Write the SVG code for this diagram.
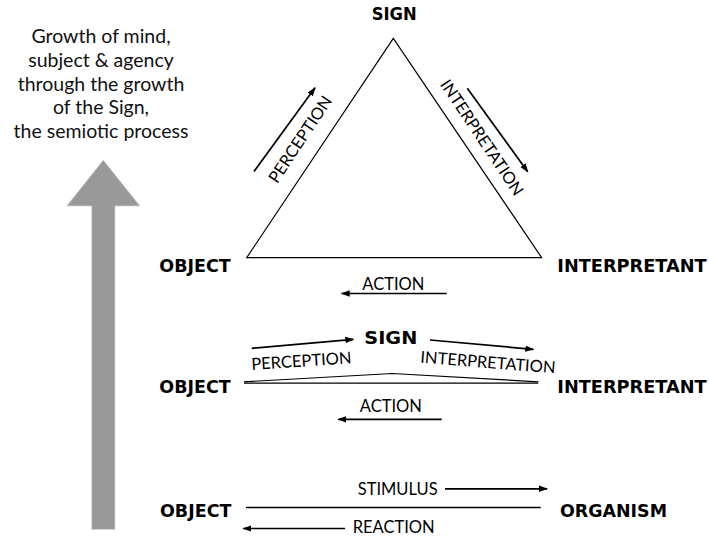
<svg xmlns="http://www.w3.org/2000/svg" width="709" height="536" viewBox="0 0 709 536">
  <defs>
    <marker id="ah" markerUnits="userSpaceOnUse" markerWidth="10" markerHeight="8" refX="8" refY="4" orient="auto">
      <path d="M0,0.8 L9,4 L0,7.2 z" fill="#000"/>
    </marker>
    <style>
      .lbl { font-family: Lato, "Open Sans", "Liberation Sans", sans-serif; font-size: 16.5px; fill: #000; }
      .node { font-family: "DejaVu Sans", "Liberation Sans", sans-serif; font-weight: bold; font-size: 17px; fill: #000; }
      .note { font-family: Lato, "Open Sans", "Liberation Sans", sans-serif; font-size: 19.5px; fill: #111; text-anchor: middle; }
      .arr { stroke: #000; stroke-width: 1.7; fill: none; marker-end: url(#ah); }
      .edge { stroke: #000; stroke-width: 1.2; fill: none; }
    </style>
  </defs>
  <rect width="709" height="536" fill="#fff"/>

  <!-- growth note and big grey arrow -->
  <g id="growth">
    <text class="note" x="101" y="43.3">Growth of mind,</text>
    <text class="note" x="101" y="66.7">subject &amp; agency</text>
    <text class="note" x="101" y="90.7">through the growth</text>
    <text class="note" x="101" y="114">of the Sign,</text>
    <text class="note" x="101" y="138.3">the semiotic process</text>
    <path d="M103.3,160 L140,206 L115,206 L115,529.5 L91.7,529.5 L91.7,206 L66.7,206 z" fill="#999" stroke="#d6d6d6" stroke-width="0.8"/>
  </g>

  <!-- triadic sign relation -->
  <g id="triad-shape">
    <path class="edge" d="M393.3,38.3 L541.7,257.7 L246.7,257.7 z"/>
  </g>
  <g id="triad-sign"><text class="node" x="394.2" y="20" font-size="16" text-anchor="middle" textLength="45" lengthAdjust="spacingAndGlyphs">SIGN</text></g>
  <g id="triad-object"><text class="node" x="159.3" y="271.7" textLength="71.4" lengthAdjust="spacingAndGlyphs">OBJECT</text></g>
  <g id="triad-interpretant"><text class="node" x="557.3" y="271.7" textLength="149.4" lengthAdjust="spacingAndGlyphs">INTERPRETANT</text></g>

  <!-- flattened sign relation -->
  <g id="flat-shape">
    <path class="edge" d="M244,381.8 L392.3,373.5 L538.3,381.8"/>
    <path class="edge" d="M244,383.2 L538.3,383.2"/>
  </g>
  <g id="flat-sign"><text class="node" x="390.8" y="344" font-size="18" text-anchor="middle" textLength="53" lengthAdjust="spacingAndGlyphs">SIGN</text></g>
  <g id="flat-object"><text class="node" x="159.3" y="392.7" textLength="71.4" lengthAdjust="spacingAndGlyphs">OBJECT</text></g>
  <g id="flat-interpretant"><text class="node" x="557.3" y="392.7" textLength="149.4" lengthAdjust="spacingAndGlyphs">INTERPRETANT</text></g>

  <!-- dyadic stimulus / reaction -->
  <g id="dyad-object"><text class="node" x="160" y="516.8" textLength="71.4" lengthAdjust="spacingAndGlyphs">OBJECT</text></g>
  <g id="dyad-organism"><text class="node" x="560" y="516.8" textLength="107" lengthAdjust="spacingAndGlyphs">ORGANISM</text></g>

  <g id="connectors">
    <!-- triad -->
    <line class="arr" x1="254" y1="171.5" x2="315" y2="87.8"/>
    <text class="lbl" text-anchor="middle" transform="translate(305,142.5) rotate(-56.25)">PERCEPTION</text>
    <line class="arr" x1="467.3" y1="88.3" x2="527.7" y2="171.7"/>
    <text class="lbl" text-anchor="middle" transform="translate(477.2,140.7) rotate(56.25)">INTERPRETATION</text>
    <text class="lbl" x="393.3" y="289.5" text-anchor="middle">ACTION</text>
    <line class="arr" x1="446.7" y1="293.5" x2="341.7" y2="293.5"/>

    <!-- flattened -->
    <line class="arr" x1="251.7" y1="348.3" x2="353.3" y2="339.3"/>
    <text class="lbl" transform="translate(251.7,370) rotate(-3.8)">PERCEPTION</text>
    <line class="arr" x1="430" y1="340" x2="533.3" y2="349.3"/>
    <text class="lbl" transform="translate(420,362.7) rotate(4.5)">INTERPRETATION</text>
    <text class="lbl" x="390.8" y="411.7" text-anchor="middle">ACTION</text>
    <line class="arr" x1="441.7" y1="419.3" x2="338.3" y2="419.3"/>

    <!-- dyad -->
    <text class="lbl" x="357.7" y="494.5">STIMULUS</text>
    <line class="arr" x1="445" y1="488.8" x2="547" y2="488.8"/>
    <line x1="246" y1="507.5" x2="540.7" y2="507.5" stroke="#000" stroke-width="1.6"/>
    <line class="arr" x1="345" y1="528.5" x2="243.3" y2="528.5"/>
    <text class="lbl" x="352.7" y="533.3">REACTION</text>
  </g>
</svg>
